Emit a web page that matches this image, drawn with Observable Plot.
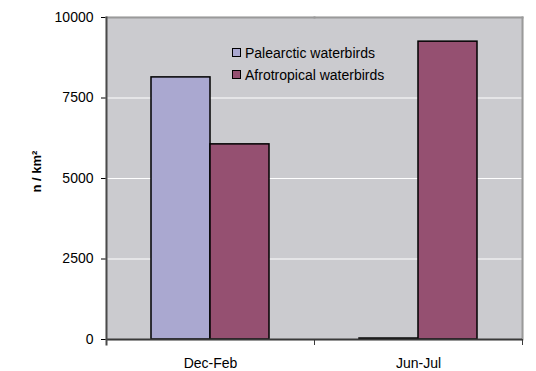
<!DOCTYPE html>
<html><head><meta charset="utf-8">
<script src="https://cdn.jsdelivr.net/npm/d3@7"></script>
<script src="https://cdn.jsdelivr.net/npm/@observablehq/plot@0.6"></script>
<style>
body{margin:0;background:#fff;font-family:"Liberation Sans",Arial,sans-serif;}
#wrap{position:relative;width:536px;height:371px;}
#legend{position:absolute;left:232px;top:41.5px;font-size:14px;color:#000;}
#legend .row{display:flex;align-items:center;height:22px;white-space:nowrap;}
#legend .sw{width:9px;height:9px;box-sizing:border-box;border:1.5px solid #000;margin-right:4px;}
</style></head>
<body><div id="wrap"></div>
<script>
const seasons = ["Dec-Feb", "Jun-Jul"];
const groups = ["Palearctic waterbirds", "Afrotropical waterbirds"];
const palearctic = [8140, 30];
const afrotropical = [6060, 9250];
const yTicks = [0, 2500, 5000, 7500, 10000];
const colors = ["#aaa8d0", "#955071"];
const yLabel = "n / km²";

const data = seasons.flatMap((s, i) => [
  {season: s, group: groups[0], value: palearctic[i]},
  {season: s, group: groups[1], value: afrotropical[i]}
]);

const W = 536, H = 371, mT = 17, mB = 32, mL = 105, mR = 14;
const plotH = H - mT - mB;
const first = () => seasons[0];
const last = () => seasons[seasons.length - 1];
const bg = "#cbcbcf";

const chart = Plot.plot({
  width: W, height: H,
  marginTop: mT, marginBottom: mB, marginLeft: mL, marginRight: mR,
  style: {fontFamily: "'Liberation Sans', Arial, sans-serif", fontSize: "14px", color: "#000", background: "#fff"},
  fx: {domain: seasons, padding: 0, label: null, tickSize: 0, tickPadding: 19},
  x: {domain: groups, paddingInner: 0, paddingOuter: 0.74, axis: null},
  y: {domain: [0, 10000], ticks: yTicks, tickSize: 5, tickPadding: 8, tickFormat: d => String(d), label: null},
  color: {domain: groups, range: colors},
  marks: [
    Plot.frame({fill: bg, stroke: bg, strokeWidth: 1.5}),
    Plot.ruleY(yTicks.slice(1, -1), {stroke: "#fff", strokeWidth: 1}),
    Plot.barY(data, {fx: "season", x: "group", y: "value", fill: "group", stroke: "#000", strokeWidth: 1.5}),
    Plot.frame({anchor: "top", stroke: "#9a9a9a", strokeWidth: 2}),
    Plot.frame({anchor: "right", stroke: "#9a9a9a", strokeWidth: 2, fx: last}),
    Plot.ruleY([0], {stroke: "#3a3a3a", strokeWidth: 2}),
    Plot.frame({anchor: "right", stroke: "#3a3a3a", strokeWidth: 1, insetTop: plotH, insetBottom: -5}),
    Plot.frame({anchor: "left", stroke: "#4a4a4a", strokeWidth: 2, insetBottom: -5, fx: first}),
    Plot.text([yLabel], {fx: first, frameAnchor: "left", rotate: -90, dx: -70, dy: 14, fontWeight: "bold", fontSize: 13})
  ]
});

const wrap = document.getElementById("wrap");
wrap.appendChild(chart);

const legend = document.createElement("div");
legend.id = "legend";
groups.forEach((g, i) => {
  const row = document.createElement("div");
  row.className = "row";
  const sw = document.createElement("span");
  sw.className = "sw";
  sw.style.background = colors[i];
  const t = document.createElement("span");
  t.textContent = g;
  row.appendChild(sw); row.appendChild(t);
  legend.appendChild(row);
});
wrap.appendChild(legend);
</script>
</body></html>
